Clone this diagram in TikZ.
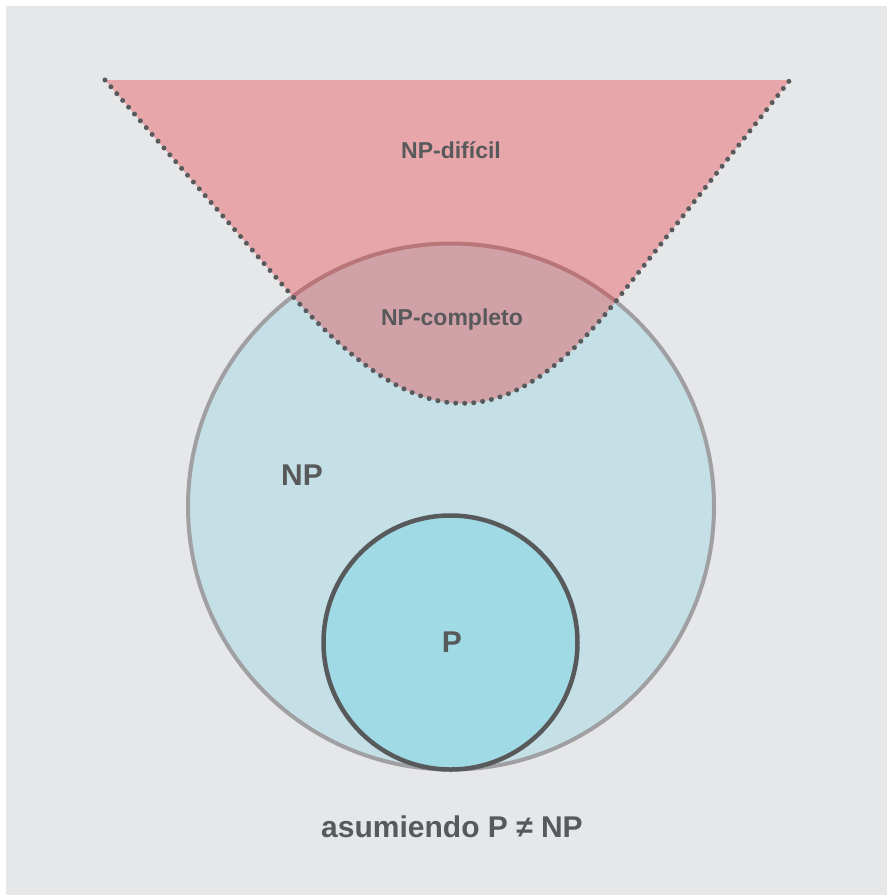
\documentclass[tikz,border=0pt]{standalone}
\usepackage{fontspec}
\setmainfont{Liberation Sans}
\usepackage{tikz}

\definecolor{fondo}{RGB}{230,231,233}
\definecolor{texto}{RGB}{88,89,91}
\definecolor{npfill}{RGB}{196,224,230}
\definecolor{npline}{RGB}{160,160,162}
\definecolor{pfill}{RGB}{160,219,229}
\definecolor{rojo}{RGB}{236,31,36}

\tikzset{
	etiqueta/.style = {text = texto, font = \bfseries\fontsize{23}{27}\selectfont},
	grande/.style = {text = texto, font = \bfseries\fontsize{30}{34}\selectfont},
	puntos/.style = {draw = texto, line width = 5pt, line cap = round, dash pattern = on 0pt off 9pt}
}

\begin{document}
\begin{tikzpicture}[x = 1pt, y = -1pt]
	\useasboundingbox (0,0) rectangle (887,895);
	\fill [white] (0,0) rectangle (887,895);
	\fill [fondo] (6,6) rectangle (887,895);

	\coordinate (np) at (451,506.5);
	\coordinate (p) at (450.5,642.5);
	\draw [fill = npfill, draw = npline, line width = 4pt] (np) circle [radius = 263];
	\draw [fill = pfill, draw = texto, line width = 4.5pt] (p) circle [radius = 127];

	% region NP-dificil
	\coordinate (izq) at (105,80);
	\coordinate (der) at (790,80);
	\coordinate (a) at (280,282);
	\coordinate (b) at (620,296);
	\fill [rojo, fill opacity = .32] (izq) -- (a) .. controls (410,432) and (500,450) .. (b) -- (der) -- cycle;
	\draw [puntos] (izq) -- (a) .. controls (410,432) and (500,450) .. (b) -- (der);

	\node [etiqueta] (dificil) at (451,150) {NP-difícil};
	\node [etiqueta] (completo) at (452,320) {NP-completo};
	\node [grande] (lnp) at (302,475) {NP};
	\node [grande] (lp) at (452,642) {P};
	\node [grande] (nota) at (452,827) {asumiendo P ≠ NP};
\end{tikzpicture}
\end{document}
